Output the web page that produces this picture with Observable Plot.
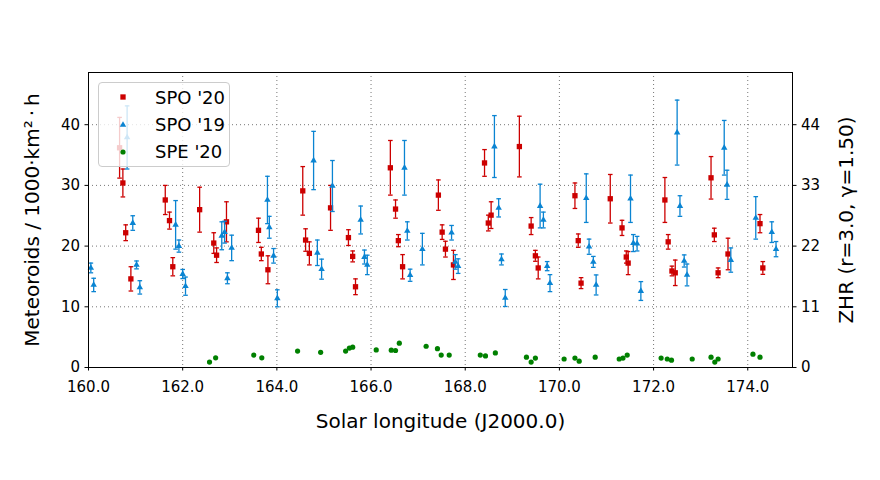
<!DOCTYPE html>
<html><head><meta charset="utf-8">
<script src="https://cdn.jsdelivr.net/npm/d3@7"></script>
<script src="https://cdn.jsdelivr.net/npm/@observablehq/plot@0.6"></script>
<style>
body{margin:0;background:#fff;font-family:"DejaVu Sans",sans-serif;}
#wrap{position:relative;width:880px;height:480px;}
#legend{position:absolute;left:98px;top:82px;width:132px;height:85px;background:rgba(255,255,255,0.8);border:1px solid #cccccc;border-radius:4px;box-sizing:border-box;}
.row{position:absolute;left:0;height:26px;display:flex;align-items:center;font-size:18px;color:#000;white-space:nowrap;}
.row svg{margin-left:14px;margin-right:22px;}
</style></head><body>
<div id="wrap"><div id="legend"></div></div>
<script>
// ---- data ----
const seriesNames = ["SPO '20", "SPO '19", "SPE '20"];
const seriesColors = ["#cc0000", "#0a84d2", "#008000"];

const spo20Lon = [160.66,160.73,160.79,160.90,161.63,161.72,161.79,162.36,162.66,162.72,162.93,163.61,163.67,163.81,164.55,164.61,164.69,165.14,165.52,165.61,165.67,166.41,166.52,166.58,166.67,167.43,167.51,167.58,167.75,168.41,168.49,168.55,169.15,169.40,169.49,169.55,170.33,170.40,170.46,171.08,171.33,171.42,171.46,172.24,172.31,172.39,172.46,173.22,173.29,173.37,173.58,174.26,174.32];
const spo20Val = [36.2,30.4,22.2,14.6,27.6,24.2,16.6,26.0,20.5,18.5,24.0,22.6,18.7,16.1,29.1,21.0,18.8,26.3,21.4,18.3,13.3,32.9,26.1,20.9,16.6,28.4,22.3,19.5,16.9,33.7,23.8,25.1,36.4,23.3,18.4,16.4,28.3,20.9,13.9,27.8,23.0,18.2,17.2,27.6,20.7,15.9,15.6,31.25,21.85,15.6,18.7,23.7,16.4];
const spo20Err = [5.0,2.3,1.3,2.0,2.4,1.4,1.5,3.7,1.7,1.2,3.3,2.0,1.1,2.3,4.0,1.85,1.9,3.7,1.3,0.9,1.3,4.5,1.5,1.0,2.0,2.5,1.2,1.3,2.4,2.2,1.3,2.2,5.0,1.4,0.9,1.8,2.1,1.1,0.9,4.0,1.25,1.0,1.9,3.7,1.2,0.8,2.1,3.5,1.1,0.8,2.6,1.5,1.05];

const spo19Lon = [160.05,160.11,160.82,160.94,161.02,161.09,161.85,161.92,162.00,162.06,162.83,162.89,162.95,163.04,163.80,163.84,163.93,164.01,164.78,164.86,164.95,165.18,165.78,165.86,165.92,166.71,166.77,166.83,167.09,167.71,167.79,167.85,168.62,168.71,168.77,168.85,169.59,169.66,169.74,169.80,170.57,170.63,170.72,170.78,171.51,171.57,171.65,171.73,172.50,172.56,172.65,172.71,173.50,173.56,173.64,174.17,174.51,174.60];
const spo19Val = [16.4,13.6,37.9,23.8,16.9,13.2,23.5,20.0,15.4,13.4,21.7,22.3,14.7,19.7,27.6,23.1,18.4,11.4,34.1,18.9,16.2,29.9,24.3,18.2,16.9,32.9,22.5,15.2,19.5,22.2,17.4,16.7,36.4,26.3,17.8,11.45,26.6,24.3,16.7,13.9,27.9,19.9,17.4,13.6,27.8,20.5,20.4,12.6,38.7,26.6,17.55,15.25,36.2,30.1,17.7,24.65,22.3,19.5];
const spo19Err = [0.8,1.1,5.2,1.2,0.65,1.1,4.0,1.0,0.75,1.5,2.3,1.8,0.9,2.1,3.9,1.8,1.2,1.4,4.8,2.1,1.65,4.2,2.3,1.15,1.6,4.5,1.5,1.0,2.6,1.2,1.2,1.2,5.1,1.5,0.9,1.4,3.6,1.3,0.75,1.4,4.0,1.25,0.9,1.65,3.9,1.4,1.2,1.55,5.35,1.7,1.0,1.8,4.5,2.4,2.0,3.5,1.7,1.25];

const spe20Lon = [162.57,162.70,163.51,163.68,164.44,164.93,165.46,165.54,165.61,166.11,166.43,166.52,166.60,167.17,167.41,167.49,167.66,168.32,168.43,168.64,169.30,169.40,169.49,170.10,170.33,170.42,170.76,171.27,171.35,171.44,172.16,172.29,172.38,172.82,173.22,173.30,173.37,174.11,174.26];
const spe20Val = [0.9,1.6,2.05,1.6,2.7,2.5,2.7,3.2,3.35,2.9,2.85,2.8,4.0,3.5,3.1,2.05,2.05,2.05,1.9,2.4,1.7,0.9,1.55,1.4,1.55,1.05,1.7,1.4,1.55,2.05,1.55,1.4,1.2,1.4,1.7,0.9,1.4,2.2,1.7];

const xTicks = [160,162,164,166,168,170,172,174];
const yTicks = [0,10,20,30,40];
const zhrTicks = [0,11,22,33,44];
const zhrPerUnit = 1.1;
const xDomain = [160, 174.95];
const yDomain = [0, 48.6];
const xLabel = "Solar longitude (J2000.0)";
const yLabel = "Meteoroids / 1000·km²\u2009·\u2009h";
const zhrLabel = "ZHR (r=3.0, γ=1.50)";

// ---- build ----
const rows = (lon, val, err) => lon.map((x, i) => ({x, v: val[i], e: err ? err[i] : 0}));
const spo20 = rows(spo20Lon, spo20Val, spo20Err);
const spo19 = rows(spo19Lon, spo19Val, spo19Err);
const spe20 = rows(spe20Lon, spe20Val, null);

const cap = {draw(ctx, size){ const w = Math.sqrt(size/Math.PI); ctx.moveTo(-w,0); ctx.lineTo(w,0); }};

function errSeries(data, color, symbol, r){
  return [
    Plot.ruleX(data, {x:"x", y1:d=>d.v-d.e, y2:d=>d.v+d.e, stroke:color, strokeWidth:1.3}),
    Plot.dot(data, {x:"x", y:d=>d.v+d.e, symbol:cap, r:2.3, fill:"none", stroke:color, strokeWidth:1.3}),
    Plot.dot(data, {x:"x", y:d=>d.v-d.e, symbol:cap, r:2.3, fill:"none", stroke:color, strokeWidth:1.3}),
    Plot.dot(data, {x:"x", y:"v", symbol, r, fill:color, stroke:"none"})
  ];
}

const grid = {stroke:"#666", strokeOpacity:1, strokeWidth:0.9, strokeDasharray:"1,3"};

const chart = Plot.plot({
  width: 880, height: 480,
  marginLeft: 88, marginRight: 88, marginTop: 72, marginBottom: 113,
  style: {fontFamily:"DejaVu Sans", fontSize:"15px", background:"white", color:"black"},
  x: {domain: xDomain},
  y: {domain: yDomain},
  marks: [
    Plot.gridX({ticks: xTicks, ...grid}),
    Plot.gridY({ticks: yTicks, ...grid}),
    Plot.axisX({ticks: xTicks, tickFormat: d=>d.toFixed(1), tickSize:3.5, tickPadding:10, label:null, fontSize:15}),
    Plot.axisY({anchor:"left", ticks: yTicks, tickSize:3.5, tickPadding:5, label:null, fontSize:15}),
    Plot.axisY({anchor:"right", ticks: zhrTicks.map(t=>t/zhrPerUnit), tickFormat:d=>String(Math.round(d*zhrPerUnit)), tickSize:3.5, tickPadding:5, label:null, fontSize:15}),
    ...errSeries(spo20, seriesColors[0], "square", 3),
    ...errSeries(spo19, seriesColors[1], "triangle", 2.4),
    Plot.dot(spe20, {x:"x", y:"v", symbol:"circle", r:2.6, fill:seriesColors[2], stroke:"none"}),
    Plot.frame({stroke:"black", strokeWidth:1}),
    Plot.text([xLabel], {frameAnchor:"bottom", dy:54, textAnchor:"middle", lineAnchor:"middle", fontSize:20}),
    Plot.text([yLabel], {frameAnchor:"left", dx:-56, rotate:-90, textAnchor:"middle", lineAnchor:"middle", fontSize:20}),
    Plot.text([zhrLabel], {frameAnchor:"right", dx:54, rotate:-90, textAnchor:"middle", lineAnchor:"middle", fontSize:20})
  ]
});
document.getElementById("wrap").prepend(chart);

// legend overlay (inside the axes, as in the reference)
const legend = d3.select("#legend");
const symbols = [d3.symbolSquare, d3.symbolTriangle, d3.symbolCircle];
const rVals = [3, 2.4, 2.6];
seriesNames.forEach((name, i) => {
  const row = legend.append("div").attr("class","row").style("top", (1.3 + i*27.2) + "px");
  const svg = row.append("svg").attr("width",20).attr("height",26);
  svg.append("path").attr("transform","translate(10,13)")
    .attr("d", d3.symbol(symbols[i], rVals[i]*rVals[i]*Math.PI)())
    .attr("fill", seriesColors[i]);
  row.append("span").text(name);
});
</script>
</body></html>
